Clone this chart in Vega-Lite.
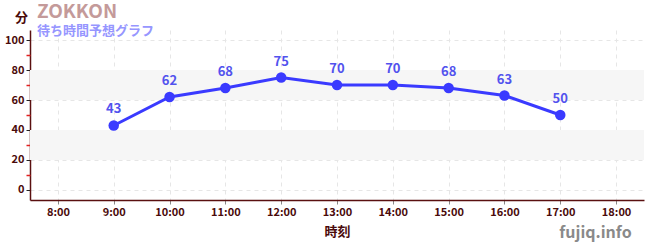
{
  "$schema": "https://vega.github.io/schema/vega-lite/v6.json",
  "width": 614,
  "height": 170,
  "autosize": {"type": "none"},
  "padding": {"left": 30, "top": 30, "right": 6, "bottom": 50},
  "background": "#ffffff",
  "config": {
    "font": "Noto Sans CJK JP",
    "view": {"stroke": null}
  },
  "title": {
    "text": "ZOKKON",
    "subtitle": "待ち時間予想グラフ",
    "anchor": "start",
    "frame": "group",
    "dx": 7,
    "offset": -27,
    "font": "Noto Sans CJK JP",
    "fontSize": 19,
    "fontWeight": "bold",
    "color": "#c49a9a",
    "subtitleFont": "Noto Sans CJK JP",
    "subtitleFontSize": 13,
    "subtitleFontWeight": "bold",
    "subtitleColor": "#9696ff",
    "subtitlePadding": 3
  },
  "datasets": {
    "bands": [{"lo": 20, "hi": 40}, {"lo": 60, "hi": 80}],
    "wait": [
      {"hour": 9, "min": 43},
      {"hour": 10, "min": 62},
      {"hour": 11, "min": 68},
      {"hour": 12, "min": 75},
      {"hour": 13, "min": 70},
      {"hour": 14, "min": 70},
      {"hour": 15, "min": 68},
      {"hour": 16, "min": 63},
      {"hour": 17, "min": 50}
    ]
  },
  "resolve": {"axis": {"y": "independent"}},
  "layer": [
    {
      "data": {"name": "bands"},
      "mark": {"type": "rect", "color": "#f6f6f6"},
      "encoding": {
        "y": {
          "field": "lo", "type": "quantitative",
          "scale": {"domain": [-6.67, 106.67], "nice": false, "zero": false},
          "axis": {
            "orient": "left",
            "values": [0, 20, 40, 60, 80, 100],
            "title": "分",
            "titleAngle": 0,
            "titleX": -9,
            "titleY": -13,
            "titleAlign": "center",
            "titleBaseline": "middle",
            "titleFontSize": 13,
            "titleFontWeight": "bold",
            "titleColor": "#4a0a0a",
            "labelFontSize": 11,
            "labelFontWeight": "bold",
            "labelColor": "#4a0a0a",
            "labelPadding": 2,
            "domainColor": "#5a1010",
            "domainWidth": 1.5,
            "tickColor": "#222222",
            "tickSize": 4,
            "grid": true,
            "gridColor": "#e6e6e6",
            "gridDash": [4, 4]
          }
        },
        "y2": {"field": "hi"}
      }
    },
    {
      "data": {"name": "wait"},
      "encoding": {
        "x": {
          "field": "hour", "type": "quantitative",
          "scale": {"domain": [7.5, 18.5], "nice": false, "zero": false},
          "axis": {
            "values": [8, 9, 10, 11, 12, 13, 14, 15, 16, 17, 18],
            "labelExpr": "datum.value + ':00'",
            "title": "時刻",
            "titleFontSize": 13,
            "titleFontWeight": "bold",
            "titleColor": "#4a0a0a",
            "titlePadding": 8,
            "labelFontSize": 11,
            "labelFontWeight": "bold",
            "labelColor": "#4a0a0a",
            "labelPadding": 2,
            "domainColor": "#5a1010",
            "domainWidth": 1.5,
            "tickColor": "#888888",
            "tickSize": 4,
            "grid": true,
            "gridColor": "#e6e6e6",
            "gridDash": [4, 4]
          }
        },
        "y": {
          "field": "min", "type": "quantitative",
          "axis": {
            "orient": "right",
            "offset": -614,
            "values": [10, 30, 50, 70, 90],
            "labels": false,
            "domain": false,
            "grid": false,
            "tickColor": "#e02020",
            "tickSize": -4,
            "tickWidth": 1.5,
            "title": "fujiq.info",
            "titleAngle": 0,
            "titleX": 565,
            "titleY": 202,
            "titleAlign": "center",
            "titleBaseline": "middle",
            "titleFontSize": 16,
            "titleFontWeight": "bold",
            "titleColor": "#8a8a8a"
          }
        }
      },
      "layer": [
        {"mark": {"type": "line", "color": "#3a3aff", "strokeWidth": 3}},
        {"mark": {"type": "point", "filled": true, "color": "#3a3aff", "size": 110, "opacity": 1}},
        {
          "mark": {"type": "text", "dy": -16, "fontSize": 13, "fontWeight": "bold", "color": "#5252ee"},
          "encoding": {"text": {"field": "min", "type": "quantitative"}}
        }
      ]
    }
  ]
}
